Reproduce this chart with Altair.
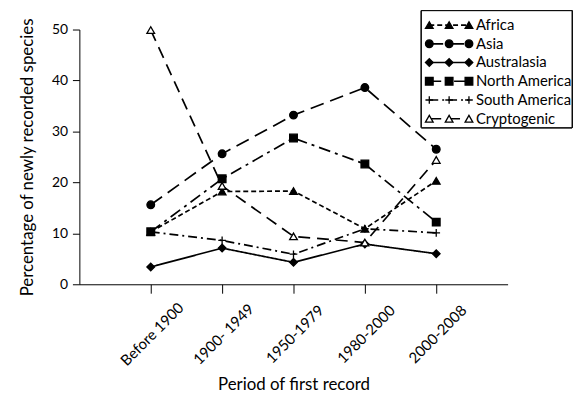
import altair as alt
import pandas as pd

periods = ["Before 1900", "1900- 1949", "1950-1979", "1980-2000", "2000-2008"]
series = ["Africa", "Asia", "Australasia", "North America", "South America", "Cryptogenic"]
africa = [10.3, 18.2, 18.3, 10.9, 20.3]
asia = [15.6, 25.6, 33.2, 38.6, 26.5]
australasia = [3.4, 7.1, 4.3, 7.9, 6.0]
north_america = [10.3, 20.7, 28.7, 23.6, 12.2]
south_america = [10.3, 8.6, 5.9, 10.9, 10.1]
cryptogenic = [49.9, 19.3, 9.4, 8.2, 24.4]

values = [africa, asia, australasia, north_america, south_america, cryptogenic]

shapes = ["triangle-up", "circle", "diamond", "square", "M-1,0L1,0M0,-1L0,1", "triangle-up"]
fills = ["black", "black", "black", "black", "black", "white"]
dashes = [[5, 3], [14, 7], [1, 0], [12, 5, 3, 5], [9, 4, 2, 4], [12, 7]]
sizes = [60, 60, 45, 64, 90, 60]

rows = []
for s, vals in zip(series, values):
    for i, (p, v) in enumerate(zip(periods, vals)):
        rows.append({"series": s, "period": p, "idx": i, "value": v})
df = pd.DataFrame(rows)

leg_rows = []
for r, s in enumerate(series):
    for pos in [0, 1, 2]:
        leg_rows.append({"series": s, "row": r, "pos": pos})
leg_df = pd.DataFrame(leg_rows)
leg_text = pd.DataFrame({"series": series, "row": list(range(len(series)))})

dash_scale = alt.Scale(domain=series, range=dashes)
shape_scale = alt.Scale(domain=series, range=shapes)
fill_scale = alt.Scale(domain=series, range=fills)
size_scale = alt.Scale(domain=series, range=sizes)

x_enc = alt.X(
    "period:O",
    sort=periods,
    scale=alt.Scale(type="point", padding=1),
    title="Period of first record",
    axis=alt.Axis(
        labelAngle=-45,
        labelAlign="center",
        labelBaseline="middle",
        labelFontSize=15,
        tickSize=9,
        labelPadding=41,
        labelOffset=1,
        titlePadding=8,
        domainColor="black",
        tickColor="black",
    ),
)
y_enc = alt.Y(
    "value:Q",
    scale=alt.Scale(domain=[0, 50], nice=False),
    title="Percentage of newly recorded species",
    axis=alt.Axis(
        values=list(range(0, 55, 5)),
        labelExpr="datum.value % 10 == 0 ? datum.label : ''",
        tickSize=7,
        labelPadding=5,
        titlePadding=15,
        grid=False,
        domainColor="black",
        tickColor="black",
    ),
)

lines = alt.Chart(df).mark_line(color="black", strokeWidth=1.7).encode(
    x=x_enc,
    y=y_enc,
    detail="series:N",
    order="idx:Q",
    strokeDash=alt.StrokeDash("series:N", scale=dash_scale, legend=None),
)
points = alt.Chart(df).mark_point(stroke="black", strokeWidth=1.3, opacity=1, filled=False).encode(
    x=alt.X("period:O", sort=periods),
    y="value:Q",
    shape=alt.Shape("series:N", scale=shape_scale, legend=None),
    fill=alt.Fill("series:N", scale=fill_scale, legend=None),
    size=alt.Size("series:N", scale=size_scale, legend=None),
)
main = alt.layer(lines, points)

box = alt.Chart(leg_text).mark_rect(fill="white", stroke="black", strokeWidth=1).encode(
    x=alt.value(345), x2=alt.value(497), y=alt.value(-19), y2=alt.value(99)
)
lx = alt.X("pos:Q", scale=alt.Scale(domain=[0, 2], range=[353, 393]), axis=None)
ly = alt.Y("row:Q", scale=alt.Scale(domain=[0, 5], range=[-4.5, 90]), axis=None)
leg_lines = alt.Chart(leg_df).mark_line(color="black", strokeWidth=1.7).encode(
    x=lx,
    y=ly,
    detail="series:N",
    strokeDash=alt.StrokeDash("series:N", scale=dash_scale, legend=None),
)
leg_points = alt.Chart(leg_df).mark_point(stroke="black", strokeWidth=1.3, opacity=1, filled=False).encode(
    x=lx,
    y=ly,
    shape=alt.Shape("series:N", scale=shape_scale, legend=None),
    fill=alt.Fill("series:N", scale=fill_scale, legend=None),
    size=alt.Size("series:N", scale=size_scale, legend=None),
)
leg_labels = alt.Chart(leg_text).mark_text(
    align="left", baseline="middle", fontSize=15, font="Lato", color="black"
).encode(x=alt.value(400), y=alt.Y("row:Q", scale=alt.Scale(domain=[0, 5], range=[-4.5, 90]), axis=None), text="series:N")
legend = alt.layer(box, leg_lines, leg_points, leg_labels)

chart = (
    alt.layer(main, legend)
    .resolve_scale(x="independent", y="independent")
    .properties(
        width=432,
        height=257,
        autosize=alt.AutoSizeParams(type="none"),
        padding={"left": 72, "top": 20, "right": 70, "bottom": 112},
    )
    .configure_view(stroke=None)
    .configure_axis(
        labelFont="Lato",
        titleFont="Lato",
        labelFontSize=14,
        titleFontSize=17,
        titleFontWeight="normal",
        labelColor="black",
        titleColor="black",
    )
)

chart.save("out.html", embed_options={"renderer": "svg", "actions": False})
